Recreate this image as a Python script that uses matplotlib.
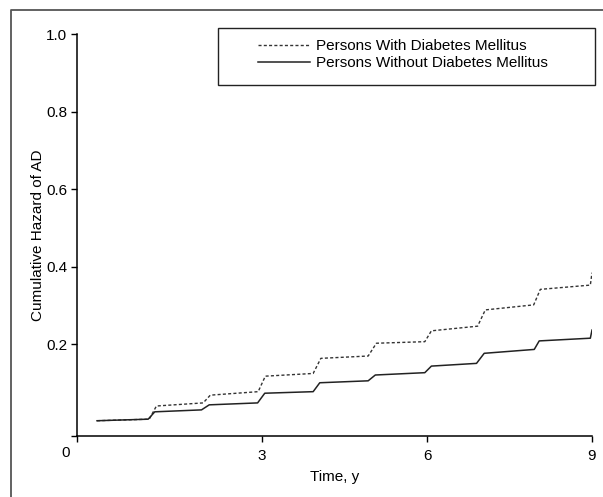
"""Cumulative hazard of AD by diabetes status"""
import matplotlib
matplotlib.use('Agg')
import matplotlib.pyplot as plt
from matplotlib.lines import Line2D
from matplotlib.patches import Rectangle

plt.rcParams['font.family'] = ['Liberation Sans', 'DejaVu Sans']
plt.rcParams['font.size'] = 11

# Data: step points (time in years, cumulative hazard)
time_with = [0.0, 0.95, 1.08, 1.93, 2.06, 2.93, 3.06, 3.93, 4.07, 4.93, 5.08,
             5.96, 6.08, 6.92, 7.06, 7.94, 8.06, 8.97, 9.0]
hazard_with = [0.002, 0.006, 0.040, 0.048, 0.068, 0.077, 0.117, 0.124, 0.163,
               0.169, 0.202, 0.206, 0.234, 0.246, 0.288, 0.301, 0.341, 0.352, 0.384]

time_without = [0.0, 0.93, 1.05, 1.9, 2.04, 2.92, 3.05, 3.93, 4.05, 4.93, 5.06,
                5.96, 6.08, 6.9, 7.04, 7.95, 8.04, 8.97, 9.0]
hazard_without = [0.002, 0.006, 0.025, 0.030, 0.043, 0.048, 0.073, 0.077, 0.100,
                  0.105, 0.120, 0.126, 0.143, 0.150, 0.176, 0.186, 0.208, 0.215, 0.236]

labels = ['Persons With Diabetes Mellitus', 'Persons Without Diabetes Mellitus']
x_ticks = [3, 6, 9]
y_ticks = [0.2, 0.4, 0.6, 0.8, 1.0]

W, H = 603, 497
fig = plt.figure(figsize=(W / 100, H / 100), dpi=100)
ax = fig.add_axes([77 / W, 1 - 436 / H, (592 - 77) / W, (436 - 34) / H])

l1, = ax.plot(time_with, hazard_with, color='#333333', lw=1.0,
              linestyle=(0, (2.2, 1.6)))
l2, = ax.plot(time_without, hazard_without, color='#222222', lw=1.1)

ax.set_xlim(-0.364, 9.0)
ax.set_ylim(-0.0374, 1.0)
ax.set_xticks([-0.364] + x_ticks)
ax.set_xticklabels([''] + [str(t) for t in x_ticks])
ax.set_yticks([-0.0374] + y_ticks)
ax.set_yticklabels([''] + [f'{v:.1f}' for v in y_ticks])
ax.tick_params(direction='out', length=4, width=1.0, colors='black', pad=3)
ax.tick_params(axis='x', pad=5.5)
for s in ['top', 'right']:
    ax.spines[s].set_visible(False)
for s in ['left', 'bottom']:
    ax.spines[s].set_linewidth(1.1)
ax.annotate('0', xy=(0, 0), xycoords='axes fraction', xytext=(-8.5, -7.5),
            textcoords='offset points', ha='center', va='top')

ax.set_xlabel('Time, y', labelpad=5)
ax.set_ylabel('Cumulative Hazard of AD', labelpad=0.5)

# Legend entries with a separate frame
ax.legend([l1, l2], labels, loc='upper left', frameon=False,
          bbox_to_anchor=(258 / W, 1 - 39 / H), bbox_transform=fig.transFigure,
          borderpad=0, borderaxespad=0, handlelength=3.4, handletextpad=0.4,
          labelspacing=0.2)
fig.add_artist(Rectangle((218 / W, 1 - 85 / H), (595 - 218) / W, (85 - 28) / H,
                         transform=fig.transFigure, fill=False,
                         edgecolor='#222222', lw=1.0))

# Figure border on left and top
fig.add_artist(Line2D([11 / W, 11 / W, 1.0], [0.0, 1 - 10 / H, 1 - 10 / H],
                      transform=fig.transFigure, color='#555555', lw=1.3))

fig.savefig('out.png', dpi=100)
